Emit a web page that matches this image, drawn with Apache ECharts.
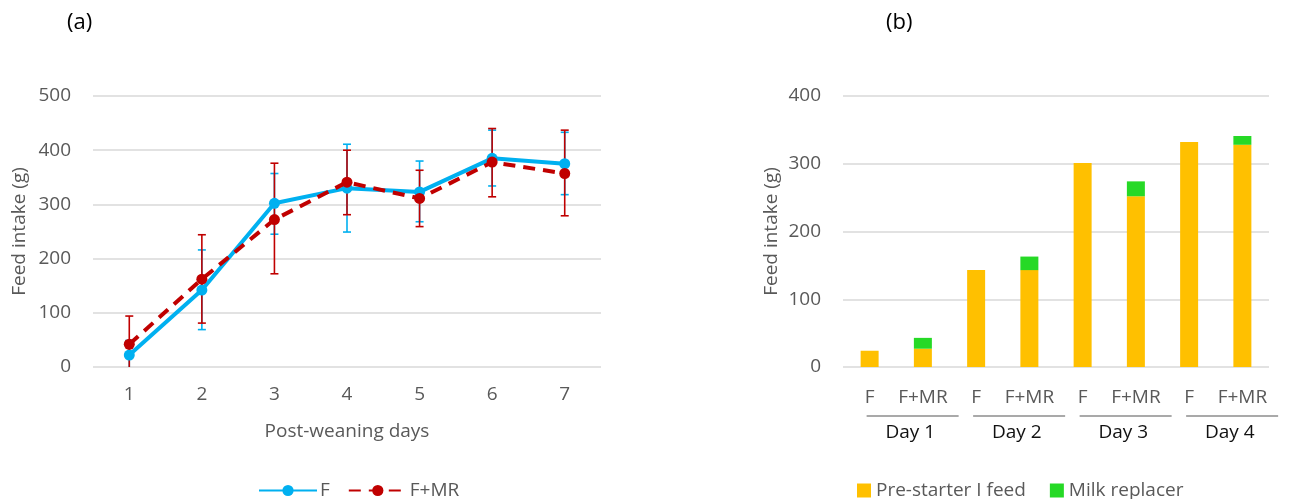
<!DOCTYPE html>
<html>
<head>
<meta charset="utf-8">
<script src="https://cdn.jsdelivr.net/npm/echarts@6/dist/echarts.min.js"></script>
<style>
html,body{margin:0;padding:0;background:#fff;}
#chart{width:1304px;height:499px;}
</style>
</head>
<body>
<div id="chart"></div>
<script>
// ---- Panel (a) data ----
const days = ['1','2','3','4','5','6','7'];
const fMean = [22, 142, 302, 330, 323, 385, 375];
const fUpper = [49, 216, 357, 411, 380, 437, 433];
const fLower = [-5, 69, 245, 249, 268, 334, 318];
const mrMean = [42, 162, 272, 341, 311, 378, 357];
const mrUpper = [94, 244, 376, 400, 363, 440, 437];
const mrLower = [-10, 81, 172, 281, 259, 314, 279];
const yTicksA = [0, 100, 200, 300, 400, 500];

// ---- Panel (b) data ----
const groupDays = ['Day 1', 'Day 2', 'Day 3', 'Day 4'];
const treatments = ['F', 'F+MR'];
const preStarter = [24, 27, 143, 143, 301, 252, 332, 328];
const milkReplacer = [null, 16, null, 20, null, 22, null, 13];
const yTicksB = [0, 100, 200, 300, 400];

const FONT = '"Open Sans", sans-serif';
const FS = 19;
const GREY = '#595959';
const GRID = '#d9d9d9';
const BLUE = '#00b0f0';
const RED = '#c00000';
const YELLOW = '#ffc000';
const GREEN = '#26d926';

const barCats = [];
groupDays.forEach(d => treatments.forEach(t => barCats.push(d + '|' + t)));

function errData(lo, hi) {
  return lo.map((v, i) => [i, v, hi[i]]);
}
function errRender(color) {
  return function (params, api) {
    const x = api.value(0);
    const lo = api.value(1), hi = api.value(2);
    const top = api.coord([x, hi]);
    const botClamped = lo < 0;
    const bot = api.coord([x, Math.max(lo, 0)]);
    const half = 4;
    const style = { stroke: color, lineWidth: 1.6 };
    const children = [
      { type: 'line', shape: { x1: top[0], y1: top[1], x2: bot[0], y2: bot[1] }, style: style },
      { type: 'line', shape: { x1: top[0] - half, y1: top[1], x2: top[0] + half, y2: top[1] }, style: style }
    ];
    if (!botClamped) {
      children.push({ type: 'line', shape: { x1: bot[0] - half, y1: bot[1], x2: bot[0] + half, y2: bot[1] }, style: style });
    }
    return { type: 'group', children: children };
  };
}

const chart = echarts.init(document.getElementById('chart'));
const option = {
  animation: false,
  backgroundColor: '#fff',
  textStyle: { fontFamily: FONT },
  title: [
    { text: '(a)', left: 62, top: 7, textStyle: { fontFamily: FONT, fontSize: 22, fontWeight: 'normal', color: '#000' } },
    { text: '(b)', left: 881, top: 7, textStyle: { fontFamily: FONT, fontSize: 22, fontWeight: 'normal', color: '#000' } }
  ],
  legend: [
    {
      data: ['F', 'F+MR'], left: 253, top: 476, itemWidth: 58, itemHeight: 14, itemGap: 18,
      textStyle: { fontFamily: FONT, fontSize: FS, color: GREY, padding: [0, 0, 0, -2] }
    },
    {
      data: ['Pre-starter I feed', 'Milk replacer'], left: 852, top: 476, itemWidth: 14, itemHeight: 14, itemGap: 24,
      icon: 'rect',
      textStyle: { fontFamily: FONT, fontSize: FS, color: GREY, padding: [0, 0, 0, 0] }
    }
  ],
  grid: [
    { left: 93, top: 96, width: 508, height: 271 },
    { left: 843, top: 96, width: 426, height: 271 }
  ],
  xAxis: [
    {
      gridIndex: 0, type: 'category', data: days, boundaryGap: true,
      axisLine: { show: false }, axisTick: { show: false },
      axisLabel: { color: GREY, fontSize: FS, fontFamily: FONT, margin: 18 },
      name: 'Post-weaning days', nameLocation: 'middle', nameGap: 55,
      nameTextStyle: { color: GREY, fontSize: FS, fontFamily: FONT }
    },
    {
      gridIndex: 1, type: 'category', data: barCats, boundaryGap: true,
      axisLine: { show: false }, axisTick: { show: false },
      axisLabel: {
        color: GREY, fontSize: FS, fontFamily: FONT, margin: 21, interval: 0,
        formatter: v => v.split('|')[1]
      }
    },
    {
      gridIndex: 1, type: 'category', data: groupDays, boundaryGap: true, position: 'bottom',
      axisLine: { show: false }, axisTick: { show: false }, splitLine: { show: false },
      axisLabel: { color: '#111', fontSize: FS, fontFamily: FONT, margin: 56, interval: 0, padding: [0, 0, 0, 28] }
    }
  ],
  yAxis: [
    {
      gridIndex: 0, type: 'value', min: yTicksA[0], max: yTicksA[yTicksA.length - 1], interval: 100,
      axisLine: { show: false }, axisTick: { show: false },
      splitLine: { lineStyle: { color: GRID, width: 1.5 } },
      axisLabel: { color: GREY, fontSize: FS, fontFamily: FONT, margin: 22 },
      name: 'Feed intake (g)', nameLocation: 'middle', nameGap: 64, nameRotate: 90,
      nameTextStyle: { color: GREY, fontSize: FS, fontFamily: FONT }
    },
    {
      gridIndex: 1, type: 'value', min: yTicksB[0], max: yTicksB[yTicksB.length - 1], interval: 100,
      axisLine: { show: false }, axisTick: { show: false },
      splitLine: { lineStyle: { color: GRID, width: 1.5 } },
      axisLabel: { color: GREY, fontSize: FS, fontFamily: FONT, margin: 22 },
      name: 'Feed intake (g)', nameLocation: 'middle', nameGap: 62, nameRotate: 90,
      nameTextStyle: { color: GREY, fontSize: FS, fontFamily: FONT }
    }
  ],
  series: [
    {
      type: 'custom', xAxisIndex: 0, yAxisIndex: 0, z: 3,
      renderItem: errRender(BLUE), data: errData(fLower, fUpper), encode: { x: 0, y: [1, 2] }, silent: true
    },
    {
      type: 'custom', xAxisIndex: 0, yAxisIndex: 0, z: 4,
      renderItem: errRender(RED), data: errData(mrLower, mrUpper), encode: { x: 0, y: [1, 2] }, silent: true
    },
    {
      name: 'F', type: 'line', xAxisIndex: 0, yAxisIndex: 0, data: fMean, z: 5,
      symbol: 'circle', symbolSize: 11,
      lineStyle: { color: BLUE, width: 4 }, itemStyle: { color: BLUE }
    },
    {
      name: 'F+MR', type: 'line', xAxisIndex: 0, yAxisIndex: 0, data: mrMean, z: 6,
      symbol: 'circle', symbolSize: 11,
      lineStyle: { color: RED, width: 4, type: [12, 8] }, itemStyle: { color: RED }
    },
    {
      name: 'Pre-starter I feed', type: 'bar', xAxisIndex: 1, yAxisIndex: 1, stack: 'b',
      data: preStarter, barWidth: 18, itemStyle: { color: YELLOW }
    },
    {
      name: 'Milk replacer', type: 'bar', xAxisIndex: 1, yAxisIndex: 1, stack: 'b',
      data: milkReplacer, barWidth: 18, itemStyle: { color: GREEN }
    }
  ]
};
chart.setOption(option);

// group underlines beneath the F / F+MR labels, positioned from the axis scale
const lines = [];
groupDays.forEach((d, i) => {
  const xF = chart.convertToPixel({ xAxisIndex: 1 }, i * 2);
  const y = chart.convertToPixel({ yAxisIndex: 1 }, 0) + 49;
  lines.push({
    type: 'line', shape: { x1: xF - 3, y1: y, x2: xF + 89, y2: y },
    style: { stroke: '#8c8c8c', lineWidth: 1.5 }, silent: true
  });
});
chart.setOption({ graphic: lines });
</script>
</body>
</html>
